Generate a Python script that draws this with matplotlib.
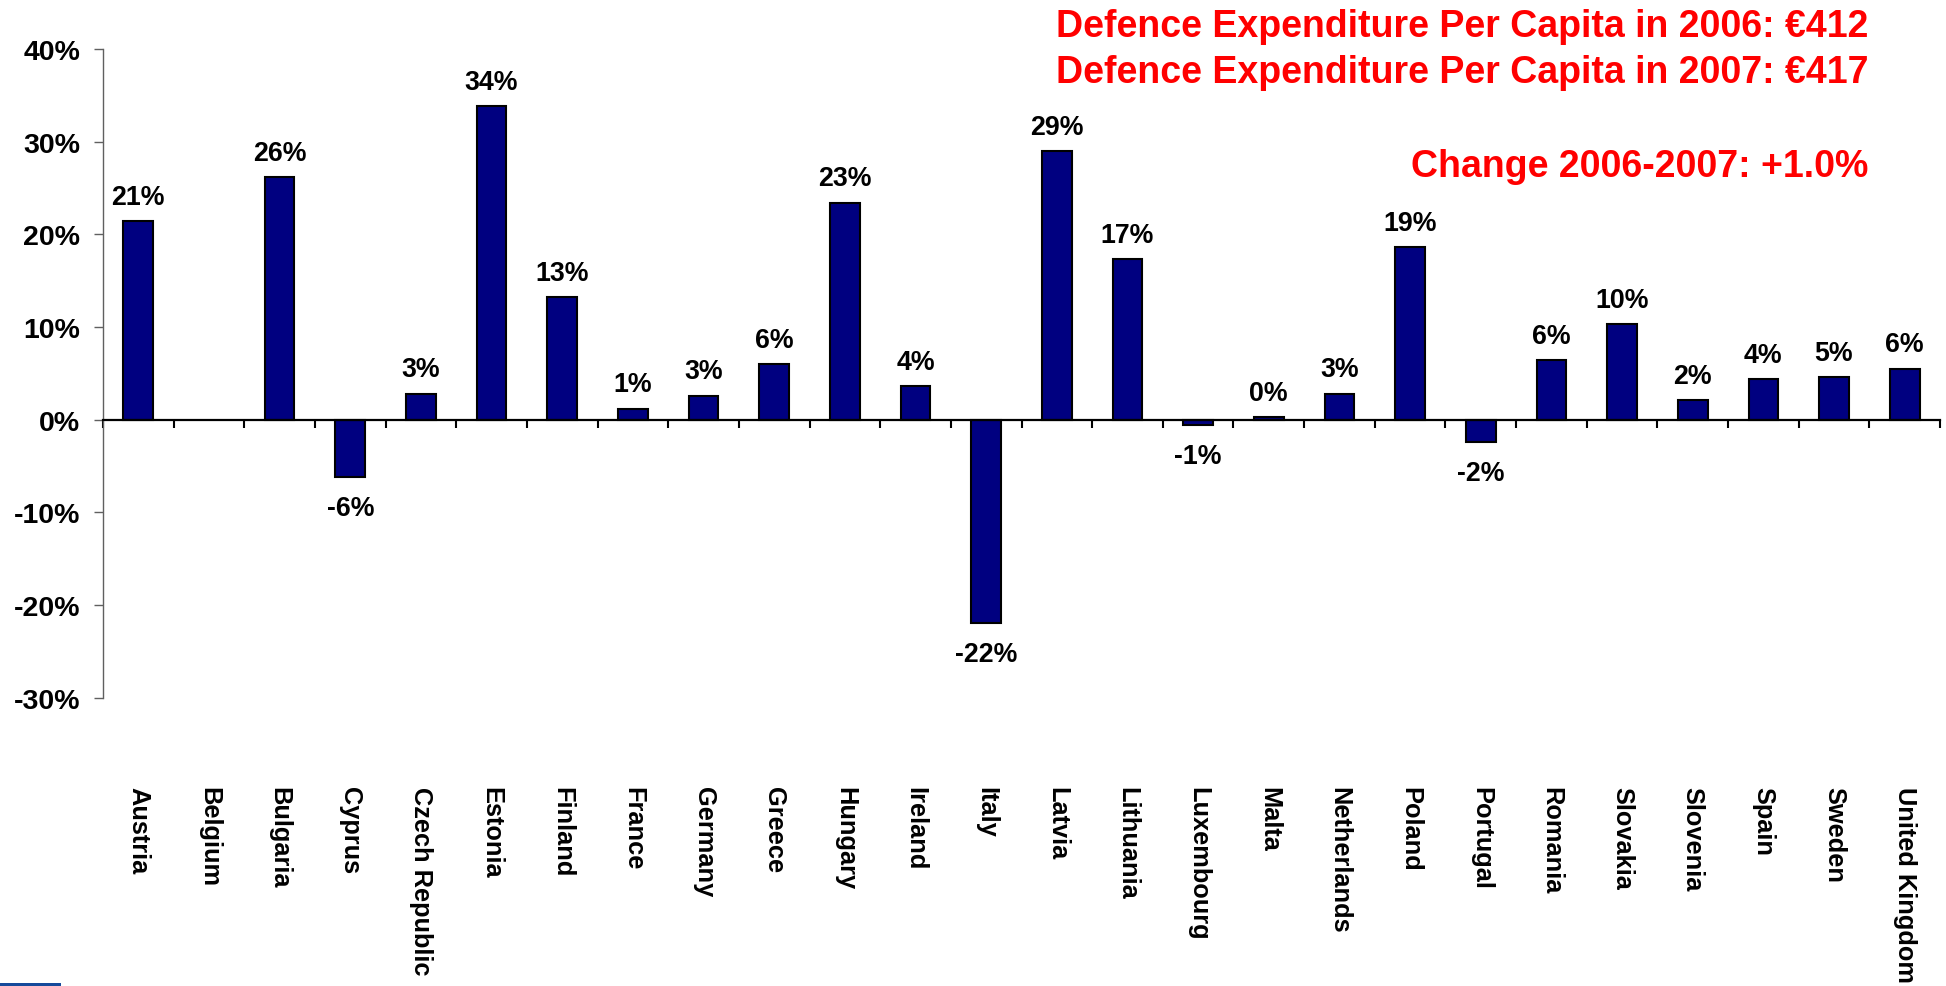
import numpy as np
import matplotlib
matplotlib.use("Agg")
import matplotlib.pyplot as plt
from matplotlib.patches import Rectangle

plt.rcParams['font.family'] = ['Liberation Sans', 'DejaVu Sans']
plt.rcParams['font.weight'] = 'bold'

countries = ["Austria", "Belgium", "Bulgaria", "Cyprus", "Czech Republic", "Estonia",
             "Finland", "France", "Germany", "Greece", "Hungary", "Ireland", "Italy",
             "Latvia", "Lithuania", "Luxembourg", "Malta", "Netherlands", "Poland",
             "Portugal", "Romania", "Slovakia", "Slovenia", "Spain", "Sweden",
             "United Kingdom"]
change_pct = [21.4, np.nan, 26.2, -6.2, 2.8, 33.8, 13.2, 1.2, 2.6, 6.0, 23.4, 3.6, -21.9,
              29.0, 17.3, -0.6, 0.3, 2.8, 18.6, -2.4, 6.4, 10.3, 2.1, 4.4, 4.6, 5.5]
y_ticks = [-30, -20, -10, 0, 10, 20, 30, 40]
header_lines = ["Defence Expenditure Per Capita in 2006: \u20ac412",
                "Defence Expenditure Per Capita in 2007: \u20ac417"]
change_line = "Change 2006-2007: +1.0%"

W, H = 1946, 987
fig = plt.figure(figsize=(W / 100, H / 100), dpi=100)
ax = fig.add_axes([103 / W, 1 - 698.7 / H, (1940 - 103) / W, (698.7 - 50) / H])

x = np.arange(len(countries))
vals = np.array(change_pct, dtype=float)
bars = ax.bar(x, np.nan_to_num(vals), width=0.42, color="#000080",
              edgecolor="black", linewidth=1.5, zorder=3)
for xi, v, b in zip(x, vals, bars):
    if np.isnan(v):
        b.set_visible(False)

ax.set_xlim(-0.5, len(countries) - 0.5)
ax.set_ylim(-30, 40)
ax.set_yticks(y_ticks)
ax.set_yticklabels([f"{t}%" for t in y_ticks], fontsize=20.5, fontweight='bold')
ax.tick_params(axis='y', direction='out', length=6.5, width=1, color='#606060', pad=10)

ax.spines['top'].set_visible(False)
ax.spines['right'].set_visible(False)
ax.spines['left'].set_color('#606060')
ax.spines['left'].set_linewidth(1.0)
ax.spines['bottom'].set_position(('data', 0))
ax.spines['bottom'].set_color('black')
ax.spines['bottom'].set_linewidth(1.6)
ax.spines['bottom'].set_zorder(4)

ax.set_xticks(np.arange(len(countries) + 1) - 0.5)
ax.set_xticklabels([])
ax.tick_params(axis='x', direction='out', length=5.5, width=1.5, color='black')

# category labels below the plot area
for xi, name in zip(x, countries):
    ax.text(xi, -0.136, name, transform=ax.get_xaxis_transform(), rotation=-90,
            ha='center', va='top', fontsize=18.3, fontweight='bold', color='black')

# value labels
for xi, v in zip(x, vals):
    if np.isnan(v):
        continue
    lab = f"{int(round(v))}%"
    if v >= 0:
        ax.annotate(lab, (xi, v), xytext=(0, 12.5), textcoords='offset points',
                    ha='center', va='baseline', fontsize=19.3, fontweight='bold')
    else:
        ax.annotate(lab, (xi, v), xytext=(0, -13), textcoords='offset points',
                    ha='center', va='top', fontsize=19.3, fontweight='bold')

# red header text
xr = 1868 / W
fig.text(xr, 1 - 36.7 / H, header_lines[0], ha='right', va='baseline',
         fontsize=27, fontweight='bold', color='#FF0000')
fig.text(xr, 1 - 83.3 / H, header_lines[1], ha='right', va='baseline',
         fontsize=27, fontweight='bold', color='#FF0000')
fig.text(xr, 1 - 176.7 / H, change_line, ha='right', va='baseline',
         fontsize=27, fontweight='bold', color='#FF0000')

# small blue decoration at bottom-left
fig.add_artist(Rectangle((0, 0), 61 / W, 3 / H, transform=fig.transFigure,
                         facecolor='#154a9b', edgecolor='none'))

fig.savefig("out.png", dpi=100, facecolor='white')
